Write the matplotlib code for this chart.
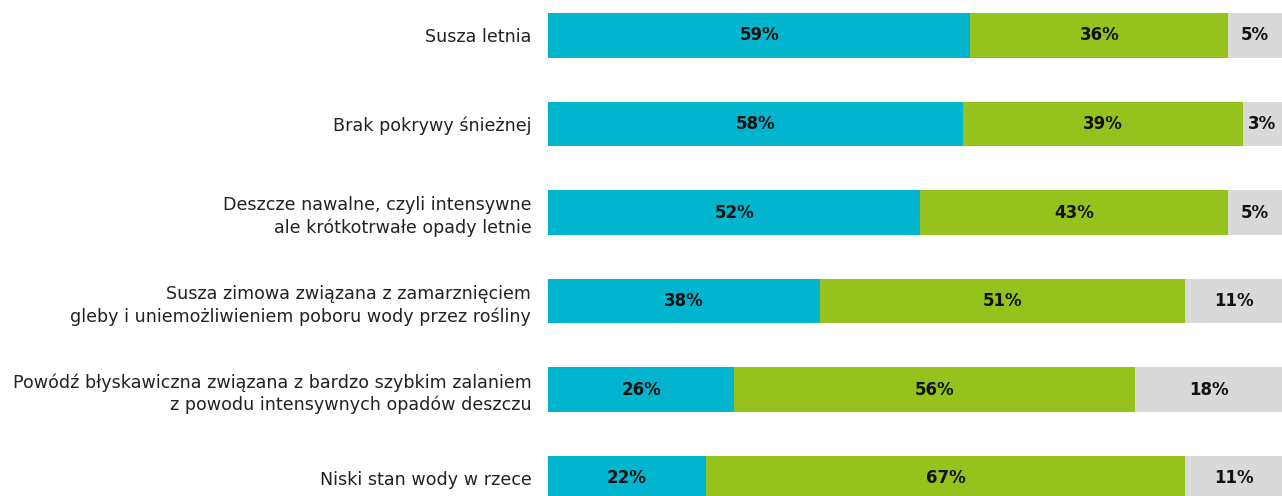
import matplotlib
matplotlib.use("Agg")
import matplotlib.pyplot as plt

categories = [
    "Susza letnia",
    "Brak pokrywy śnieżnej",
    "Deszcze nawalne, czyli intensywne\nale krótkotrwałe opady letnie",
    "Susza zimowa związana z zamarznięciem\ngleby i uniemożliwieniem poboru wody przez rośliny",
    "Powódź błyskawiczna związana z bardzo szybkim zalaniem\nz powodu intensywnych opadów deszczu",
    "Niski stan wody w rzece",
]
blue_vals = [59, 58, 52, 38, 26, 22]
green_vals = [36, 39, 43, 51, 56, 67]
grey_vals = [5, 3, 5, 11, 18, 11]

BLUE = "#00B5CD"
GREEN = "#96C21E"
GREY = "#D9D9D9"
XMAX = 102.5

plt.rcParams['font.family'] = ['DejaVu Sans']

fig = plt.figure(figsize=(12.82, 4.96), dpi=100)
ax = fig.add_axes([548 / 1282, 0, 1 - 548 / 1282, 1])

ypos = list(range(len(categories)))
h = 0.508
for i, (b, g, r) in enumerate(zip(blue_vals, green_vals, grey_vals)):
    ax.barh(i, b, left=0, height=h, color=BLUE, linewidth=0)
    ax.barh(i, g, left=b, height=h, color=GREEN, linewidth=0)
    ax.barh(i, XMAX - b - g, left=b + g, height=h, color=GREY, linewidth=0)
    kw = dict(ha="center", va="center", fontsize=12, fontweight="bold", color="#111111")
    ax.text(b / 2, i, f"{b}%", **kw)
    ax.text(b + g / 2, i, f"{g}%", **kw)
    ax.text((b + g + XMAX) / 2, i, f"{r}%", **kw)

ax.set_xlim(0, XMAX)
ax.set_ylim(5.203, -0.401)
ax.set_yticks(ypos)
ax.set_yticklabels(categories, fontsize=12.6, color="#222222", linespacing=1.3)
ax.tick_params(axis="y", length=0, pad=12)
ax.set_xticks([])
for s in ax.spines.values():
    s.set_visible(False)

fig.savefig("out.png", dpi=100)
